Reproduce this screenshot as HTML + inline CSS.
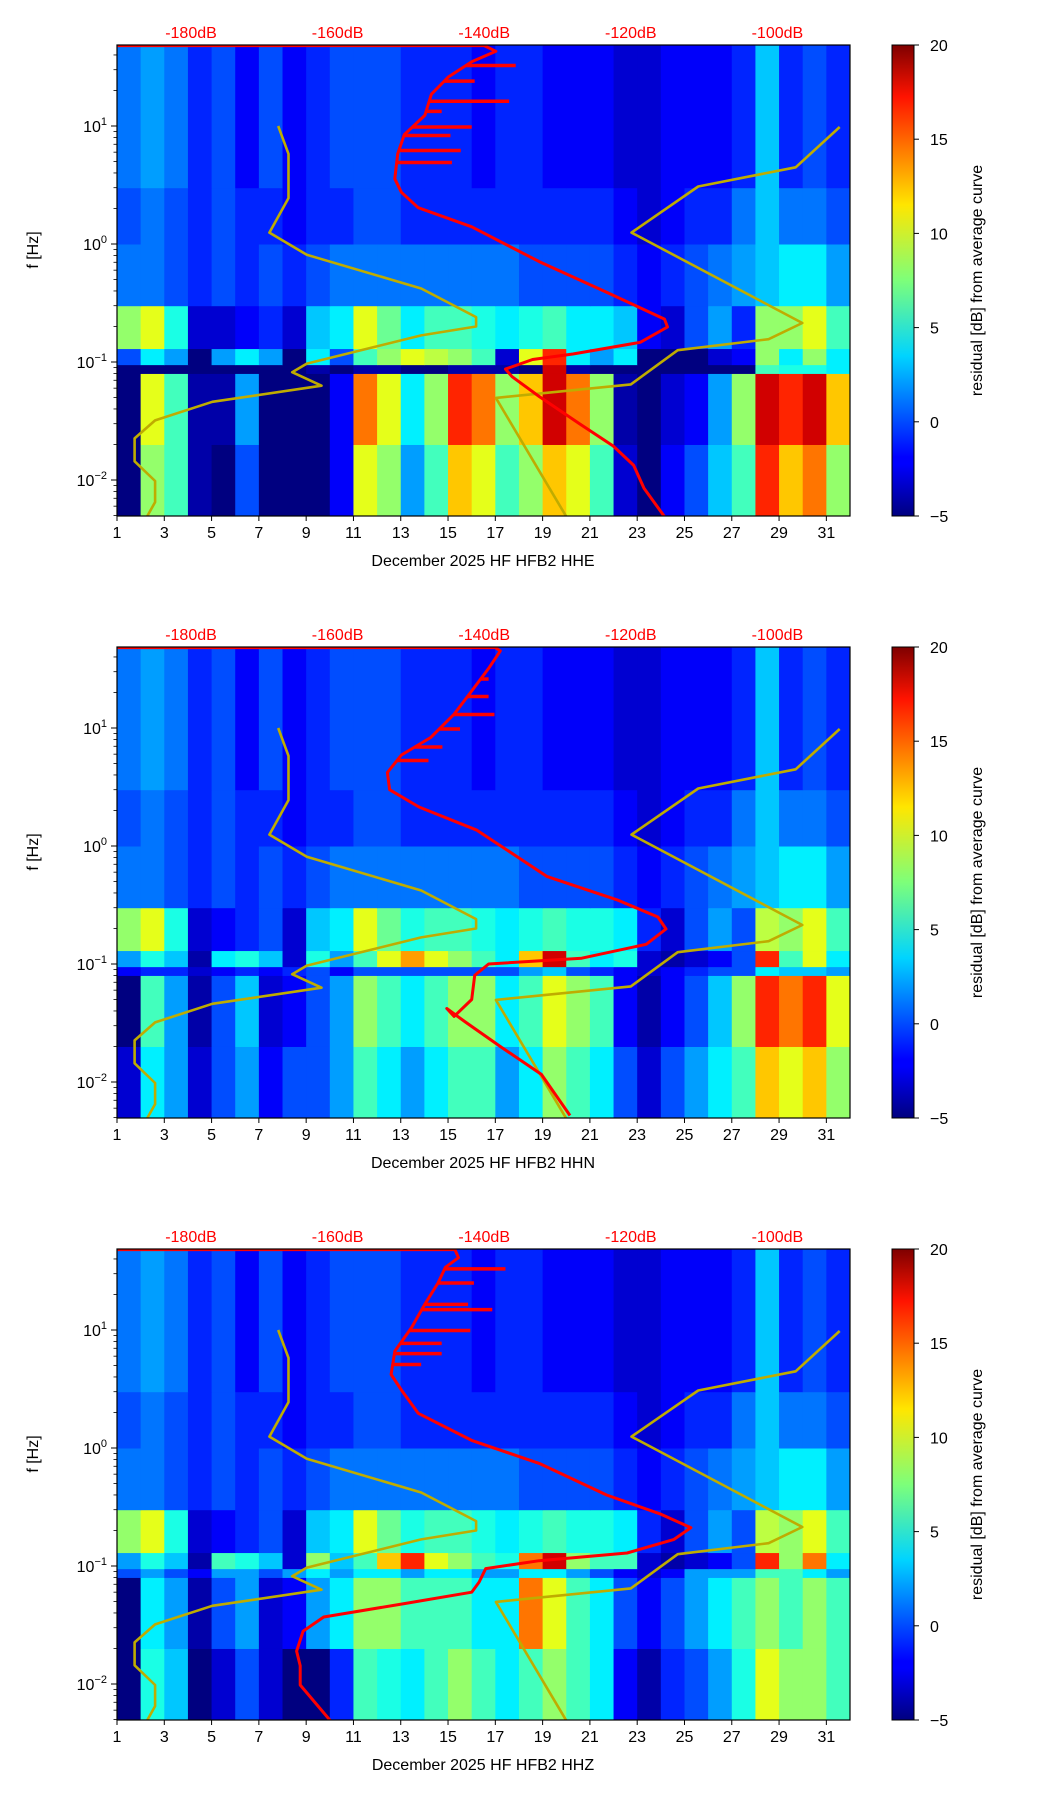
<!DOCTYPE html>
<html><head><meta charset="utf-8"><style>
html,body{margin:0;padding:0;background:#fff;}
svg{display:block;font-family:"Liberation Sans","DejaVu Sans",sans-serif;}
</style></head><body>
<svg id="fig" width="1052" height="1806" viewBox="0 0 1052 1806" xmlns="http://www.w3.org/2000/svg">
<defs>
<linearGradient id="jetg" x1="0" y1="1" x2="0" y2="0">
<stop offset="0" stop-color="#00007f"/><stop offset="0.11" stop-color="#0000ff"/><stop offset="0.125" stop-color="#0000ff"/>
<stop offset="0.34" stop-color="#00d4ff"/><stop offset="0.5" stop-color="#7dff7a"/><stop offset="0.66" stop-color="#ffe600"/>
<stop offset="0.89" stop-color="#ff1300"/><stop offset="1" stop-color="#7f0000"/></linearGradient>
</defs>
</svg>
<script>
// ---- data ----
const days = [1,2,3,4,5,6,7,8,9,10,11,12,13,14,15,16,17,18,19,20,21,22,23,24,25,26,27,28,29,30,31];
const bandEdges = [0.005,0.02,0.08,0.095,0.13,0.3,1,3,48];
const xTicks = [1,3,5,7,9,11,13,15,17,19,21,23,25,27,29,31];
const dbTicks = [-180,-160,-140,-120,-100];
const cbTicks = [-5,0,5,10,15,20];
const panelNames = ["HHE","HHN","HHZ"];
const highB5 = [1,1,0,-1,0,-1,0,-1,0,1,1,1,1,1,1,1,1,0,0,0,0,-1,-2,-1,0,1,2,3,4,4,2];
const highB6 = [0,1,0,-1,0,-1,-1,-2,-1,-1,0,0,-1,-1,-1,-1,-1,-1,-1,-1,-1,-2,-3,-2,-1,-1,1,3,1,1,0];
const highB7 = [1,2,1,-1,0,-2,0,-2,-1,0,0,0,-1,-1,-1,-2,-1,-1,-2,-2,-2,-3,-3,-2,-2,-2,-1,3,-1,0,-1];
const hheBands = [
 [-5,8,6,-4,-5,0,-5,-5,-5,-2,10,8,2,6,12,10,6,8,12,10,6,-3,-5,-2,0,3,6,16,12,14,8],
 [-5,10,6,-4,-4,2,-5,-5,-5,-2,14,10,4,8,16,14,8,12,18,14,8,-4,-5,-3,-2,2,8,18,16,18,12],
 [-5,-5,-5,-5,-5,-5,-5,-5,-4,-5,-4,-4,-5,-5,-4,-4,-4,-5,18,-4,-5,-5,-5,-5,-5,-5,-5,6,5,5,4],
 [0,4,2,-5,2,4,2,-5,4,0,6,8,10,9,8,6,-3,10,16,4,2,4,-5,-5,-5,-3,-2,8,4,8,4],
 [8,10,5,-3,-3,-2,-1,-3,3,4,10,7,4,6,6,5,4,5,6,4,4,3,-2,-3,0,2,-1,8,8,10,6],
 highB5, highB6, highB7];
const hhnBands = [
 [-3,4,2,-3,0,2,-2,0,0,2,6,4,2,4,6,6,2,4,8,6,4,0,-3,0,2,4,6,12,10,12,8],
 [-5,6,2,-4,0,3,-3,-2,0,2,8,6,4,6,8,8,4,6,10,8,6,-2,-4,-2,0,3,8,16,14,16,10],
 [-2,-1,-1,-3,-2,-1,-2,-1,0,-2,0,0,0,0,0,0,0,2,3,0,-1,-2,-3,-2,-1,0,0,4,3,3,2],
 [2,5,3,-4,4,5,3,-3,5,2,6,10,13,10,8,6,4,12,18,6,4,5,-3,-4,-3,-2,0,16,6,10,4],
 [8,10,5,-3,-2,-1,0,-3,3,4,10,7,5,6,6,5,4,5,6,5,5,4,-1,-3,0,2,0,9,8,10,6],
 highB5, highB6, highB7];
const hhzBands = [
 [-5,5,3,-5,-3,0,-3,-5,-5,-1,6,5,4,6,8,6,4,6,8,6,4,-2,-4,-1,0,2,5,10,8,8,6],
 [-5,4,2,-4,0,2,-3,-2,2,4,8,8,6,6,6,4,4,14,10,6,4,0,-2,0,2,4,6,8,6,8,6],
 [0,2,0,-2,2,2,0,2,4,2,4,4,2,4,4,2,2,4,4,2,0,-2,-3,-2,2,2,2,6,6,4,2],
 [2,5,3,-4,6,5,3,-3,8,3,6,12,16,10,8,6,5,14,18,8,6,6,-3,-4,-3,-2,0,16,8,14,4],
 [8,10,5,-3,-2,-1,0,-3,3,4,10,7,5,6,6,5,4,5,6,5,5,4,-1,-3,0,2,0,9,8,10,6],
 highB5, highB6, highB7];
// model curves (dB, Hz)
const nlnmDb = [-168.1,-166.7,-166.7,-169.3,-164.2,-148.6,-141.1,-141.1,-148.6,-164.2,-166.2,-162.2,-177.1,-184.9,-187.7,-187.7,-184.9,-184.9,-186.0];
const nlnmF = [10,5.8,2.45,1.25,0.81,0.42,0.24,0.2,0.168,0.097,0.082,0.063,0.046,0.032,0.0225,0.0144,0.0098,0.0065,0.0049];
const nhnmDb = [-91.5,-97.5,-110.8,-119.9,-96.6,-101.2,-113.6,-120.0,-138.4,-128.8];
const nhnmF = [9.8,4.47,3.07,1.25,0.214,0.156,0.126,0.0646,0.0496,0.0049];
// average curves per panel
const hheDb = [-190,-140,-138.4,-141.7,-144.9,-147.2,-148.1,-150.9,-151.8,-152.2,-151.3,-149,-141.7,-132.5,-123.3,-115.4,-115.0,-118.7,-127.9,-133.4,-137.1,-136.2,-132.5,-127,-122.4,-119.6,-118.2,-115.4];
const hheF = [48,48,43,35,26,18.6,12.3,8.45,5.8,3.57,2.74,2.03,1.40,0.71,0.39,0.231,0.198,0.147,0.117,0.105,0.087,0.075,0.051,0.030,0.0194,0.0133,0.0085,0.0049];
const hheSpikeF = [32.6,24,16.2,13.3,9.8,8.3,6.2,4.9];
const hheSpikeDb = [-135.7,-141.3,-136.6,-145.8,-141.7,-144.6,-143.2,-144.4];
const hhnDb = [-190,-138.5,-137.8,-139.4,-141.7,-144.1,-147.3,-151.3,-153.2,-152.9,-148.9,-141,-131.4,-121.9,-116.3,-115.2,-117.9,-126.7,-139.4,-141.3,-141.7,-144.1,-145.1,-142.5,-137.8,-132.2,-128.3];
const hhnF = [48,48,45,32,20.6,13.1,8.3,5.9,4.2,3.0,2.14,1.36,0.55,0.35,0.25,0.198,0.147,0.112,0.1,0.08,0.05,0.036,0.042,0.032,0.020,0.0116,0.0052];
const hhnSpikeF = [26,18.5,13,9.8,6.9,5.3];
const hhnSpikeDb = [-139.4,-139.4,-138.6,-143.3,-145.7,-147.6];
const hhzDb = [-190,-144,-143.5,-145.3,-146.3,-148.1,-149.9,-152.2,-152.7,-151.3,-149,-141.7,-132.5,-123.3,-115.9,-111.8,-114.1,-120.5,-132.5,-139.8,-140.7,-141.7,-150.9,-161.9,-164.7,-165.6,-165.1,-165.1,-161];
const hhzF = [48,48,41,34,25,16.5,10.5,6.6,4.2,3.1,1.97,1.16,0.74,0.40,0.275,0.211,0.168,0.129,0.111,0.095,0.073,0.060,0.048,0.037,0.028,0.019,0.0143,0.0098,0.0049];
const hhzSpikeF = [33,25,16.5,14.9,9.9,7.7,6.3,5.1];
const hhzSpikeDb = [-137.1,-141.4,-142.2,-138.9,-141.9,-145.8,-145.8,-148.6];

const panels = [
 {name:"HHE", top:45, bands:hheBands, db:hheDb, f:hheF, sf:hheSpikeF, sd:hheSpikeDb},
 {name:"HHN", top:647, bands:hhnBands, db:hhnDb, f:hhnF, sf:hhnSpikeF, sd:hhnSpikeDb},
 {name:"HHZ", top:1249, bands:hhzBands, db:hhzDb, f:hhzF, sf:hhzSpikeF, sd:hhzSpikeDb}];

// ---- helpers ----
const NS="http://www.w3.org/2000/svg";
const svg=document.getElementById('fig');
const L=117,R=850,H=471;
function mk(tag,attrs,parent){const e=document.createElementNS(NS,tag);for(const k in attrs)e.setAttribute(k,attrs[k]);(parent||svg).appendChild(e);return e;}
function xDay(d){return L+(d-1)*(R-L)/31;}
function xDb(db){return 191+(db+180)*7.33;}
function yF(top,f){return top+81-(Math.log10(f)-1)*118;}
function jet(v){let t=(v+5)/25;t=Math.max(0,Math.min(1,t));
 const r=Math.max(0,Math.min(1,1.5-Math.abs(4*t-3))),g=Math.max(0,Math.min(1,1.5-Math.abs(4*t-2))),b=Math.max(0,Math.min(1,1.5-Math.abs(4*t-1)));
 return `rgb(${Math.round(r*255)},${Math.round(g*255)},${Math.round(b*255)})`;}
function interpDb(p,f){const lf=Math.log10(f);let best=p.db[2];
 for(let i=2;i<p.f.length-1;i++){const a=Math.log10(p.f[i]),b=Math.log10(p.f[i+1]);
  if((lf<=a&&lf>=b)||(lf>=a&&lf<=b)){const t=(lf-a)/((b-a)||1);return p.db[i]+t*(p.db[i+1]-p.db[i]);}}
 return best;}

panels.forEach((p,pi)=>{
 const top=p.top,bot=top+H;
 const g=mk('g',{});
 
 
 const clipId='clip'+pi;
 const cp=mk('clipPath',{id:clipId},svg);mk('rect',{x:L,y:top,width:R-L,height:H},cp);
 const hm=mk('g',{'clip-path':`url(#${clipId})`},g);
 
 
 mk('rect',{x:L,y:top,width:R-L,height:H,fill:jet(-4)},hm);
 for(let b=0;b<p.bands.length;b++){
  const y1=yF(top,bandEdges[b+1]),y0=yF(top,bandEdges[b]);
  for(let i=0;i<days.length;i++){
   const x0=xDay(days[i]),x1=xDay(days[i]+1);
   const r=mk('rect',{x:x0,y:y1,width:x1-x0+0.5,height:y0-y1+0.5,fill:jet(p.bands[b][i])},hm);
   
   
  }
 }
 // model curves
 const lines=mk('g',{'clip-path':`url(#${clipId})`},g);
 const pl=(dbs,fs)=>dbs.map((d,i)=>`${xDb(d).toFixed(1)},${yF(top,fs[i]).toFixed(1)}`).join(' ');
 const n1=mk('polyline',{points:pl(nlnmDb,nlnmF),fill:'none',stroke:'#bfac00',"stroke-width":2.6,"stroke-linejoin":'round'},lines);
 
 
 const n2=mk('polyline',{points:pl(nhnmDb,nhnmF),fill:'none',stroke:'#bfac00',"stroke-width":2.6,"stroke-linejoin":'round'},lines);
 
 
 const rc=mk('polyline',{points:pl(p.db,p.f),fill:'none',stroke:'#ff0000',"stroke-width":3,"stroke-linejoin":'round'},lines);
 
 
 for(let i=0;i<p.sf.length;i++){
  const y=yF(top,p.sf[i]);
  const s=mk('line',{x1:xDb(interpDb(p,p.sf[i])),x2:xDb(p.sd[i]),y1:y,y2:y,stroke:'#ff0000',"stroke-width":3.5},lines);
  
  
 }
 // frame
 const fr=mk('rect',{x:L,y:top,width:R-L,height:H,fill:'none',stroke:'#000',"stroke-width":1.2},g);
 
 
 // x ticks
 xTicks.forEach(d=>{const x=xDay(d);mk('line',{x1:x,x2:x,y1:bot,y2:bot+5,stroke:'#000'},g);
  const t=mk('text',{x:x,y:bot+22,"font-size":16,"text-anchor":'middle'},g);t.textContent=d;
  });
 const xl=mk('text',{x:483,y:bot+50,"font-size":16,"text-anchor":'middle'},g);
 xl.textContent='December 2025 HF HFB2  '+p.name;
 
 // y ticks
 for(let e=-3;e<=1;e++){for(let m=1;m<10;m++){const f=m*Math.pow(10,e);const y=yF(top,f);
  if(y<top-0.5||y>bot+0.5)continue;
  mk('line',{x1:L,x2:L-(m==1?6:3.5),y1:y,y2:y,stroke:'#000',"stroke-width":m==1?1:0.8},g);
  if(m==1){const t=mk('text',{x:L-10,y:y+6,"font-size":16,"text-anchor":'end'},g);
   
   const a=mk('tspan',{},t);a.textContent='10';const s=mk('tspan',{dy:-7,"font-size":11},t);s.textContent=String(e).replace('-','−');}
 }}
 const yl=mk('text',{x:0,y:0,"font-size":16,"text-anchor":'middle',transform:`translate(38,${top+205}) rotate(-90)`},g);
 yl.textContent='f [Hz]';
 // top dB labels
 dbTicks.forEach(d=>{const t=mk('text',{x:xDb(d),y:top-7,"font-size":16,"text-anchor":'middle',fill:'#ff0000'},g);
  t.textContent=d+'dB';});
 // colorbar
 const cb=mk('rect',{x:892,y:top,width:22,height:H,fill:'url(#jetg)',stroke:'#000',"stroke-width":1},g);
 
 cbTicks.forEach(v=>{const y=bot-(v+5)/25*H;mk('line',{x1:914,x2:919,y1:y,y2:y,stroke:'#000'},g);
  const t=mk('text',{x:930,y:y+6,"font-size":16},g);t.textContent=String(v).replace('-','−');
  });
 const cl=mk('text',{x:0,y:0,"font-size":16,"text-anchor":'middle',transform:`translate(982,${top+H/2}) rotate(-90)`},g);
 cl.textContent='residual [dB] from average curve';
});
</script>
</body></html>
